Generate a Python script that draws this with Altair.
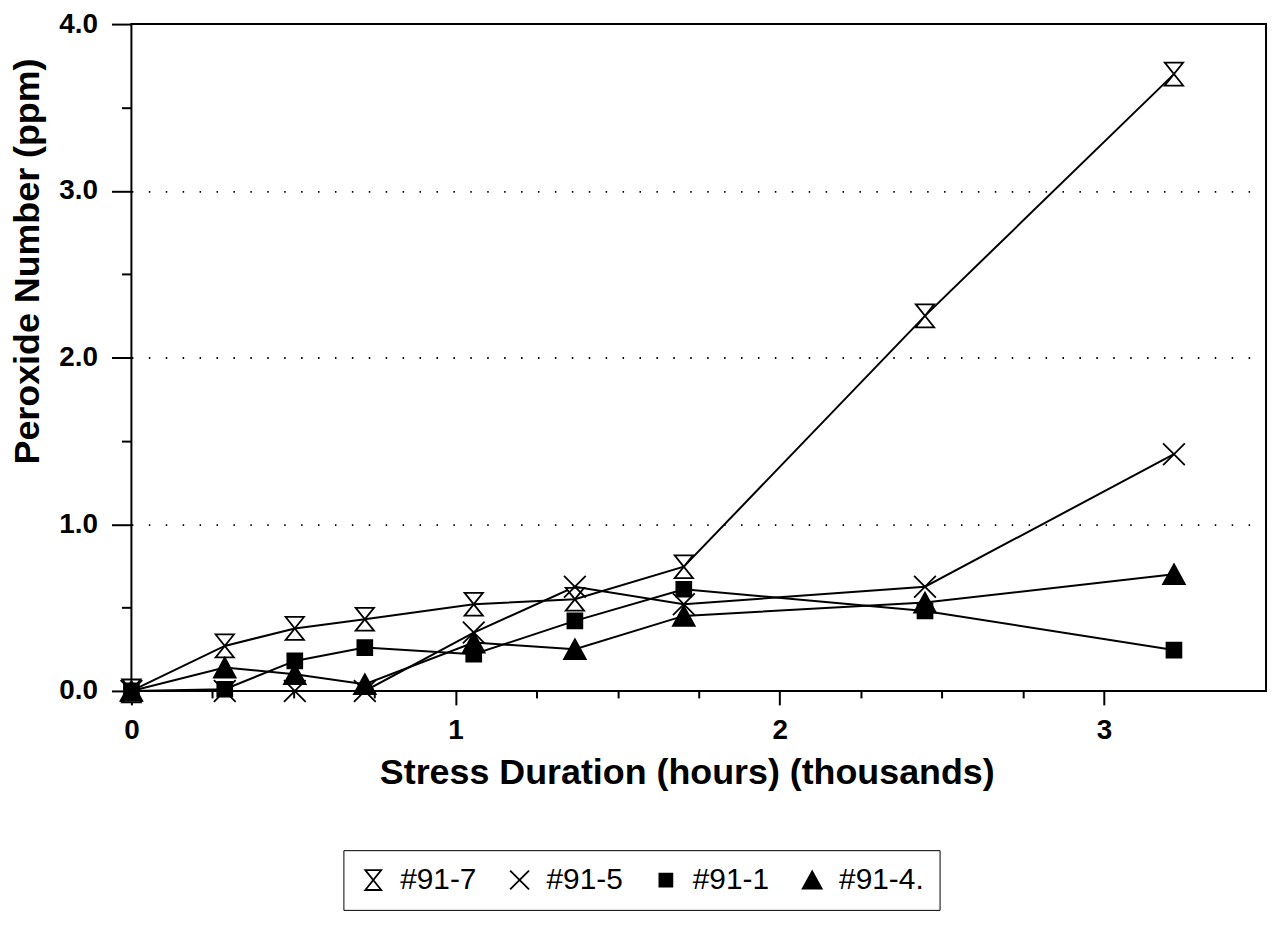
import altair as alt
import pandas as pd

# Stress duration in thousands of hours
hours_k = [0, 0.288, 0.504, 0.72, 1.056, 1.368, 1.704, 2.448, 3.216]

# Peroxide number (ppm) per sample
s_91_7 = [0, 0.27, 0.375, 0.43, 0.52, 0.55, 0.745, 2.25, 3.70]
s_91_5 = [0, 0, 0, 0, 0.35, 0.625, 0.52, 0.625, 1.42]
s_91_1 = [0, 0.01, 0.18, 0.26, 0.22, 0.42, 0.61, 0.48, 0.245]
s_91_4 = [0, 0.14, 0.10, 0.04, 0.29, 0.25, 0.45, 0.53, 0.70]

series_names = ["#91-7", "#91-5", "#91-1", "#91-4."]
series_values = [s_91_7, s_91_5, s_91_1, s_91_4]

x_tick_values = [0, 0.25, 0.5, 0.75, 1, 1.25, 1.5, 1.75, 2, 2.25, 2.5, 2.75, 3]
y_tick_values = [0, 0.5, 1, 1.5, 2, 2.5, 3, 3.5, 4]

rows = []
for name, vals in zip(series_names, series_values):
    for x, y in zip(hours_k, vals):
        rows.append({"series": name, "hours": x, "peroxide": y})
df = pd.DataFrame(rows)

FONT = "Liberation Sans"

marker_paths = [
    "M-0.8,-1L0.8,-1L-0.8,1L0.8,1Z",
    "M-0.95,-0.95L0.95,0.95M-0.95,0.95L0.95,-0.95",
    "M-0.65,-0.65L0.65,-0.65L0.65,0.65L-0.65,0.65Z",
    "M0,-0.87L0.95,0.87L-0.95,0.87Z",
]
marker_fills = ["white", "transparent", "black", "black"]

x_enc = alt.X(
    "hours:Q",
    scale=alt.Scale(domain=[0, 3.5], nice=False, zero=False),
    axis=alt.Axis(
        values=x_tick_values,
        labelExpr="datum.value % 1 === 0 ? format(datum.value, 'd') : ''",
        tickSize={"condition": {"test": "datum.value % 1 === 0", "value": 14}, "value": 7},
        tickColor="black",
        tickWidth=2,
        domain=False,
        grid=False,
        labelFont=FONT,
        labelFontSize=28,
        labelFontWeight="bold",
        labelColor="black",
        labelPadding=12,
        labelOverlap=False,
        labelFlush=False,
        title="Stress Duration (hours) (thousands)",
        titleFont=FONT,
        titleFontSize=36,
        titleFontWeight="bold",
        titleColor="black",
        titleX=558,
        titleY=82,
        titleAlign="center",
        titleBaseline="middle",
    ),
)

y_enc = alt.Y(
    "peroxide:Q",
    scale=alt.Scale(domain=[0, 4], nice=False),
    axis=alt.Axis(
        values=y_tick_values,
        labelExpr="datum.value % 1 === 0 ? format(datum.value, '.1f') : ''",
        tickSize={"condition": {"test": "datum.value % 1 === 0", "value": 20}, "value": 10},
        tickColor="black",
        tickWidth=2,
        domain=False,
        grid=True,
        gridColor="black",
        gridDash=[1.5, 15.5],
        gridWidth=1.8,
        gridOpacity={
            "condition": {
                "test": "datum.value > 0.5 && datum.value < 3.5 && datum.value % 1 === 0",
                "value": 1,
            },
            "value": 0,
        },
        labelFont=FONT,
        labelFontSize=28,
        labelFontWeight="bold",
        labelColor="black",
        labelPadding=14,
        labelOverlap=False,
        labelFlush=False,
        title="Peroxide Number (ppm)",
        titleFont=FONT,
        titleFontSize=36,
        titleFontWeight="bold",
        titleColor="black",
        titleX=-104,
        titleY=238,
        titleAngle=270,
        titleAlign="center",
        titleBaseline="middle",
    ),
)

def make_legend():
    return alt.Legend(
        title=None,
        orient="none",
        legendX=213,
        legendY=830,
        direction="horizontal",
        strokeColor="black",
        padding=15,
        labelFont=FONT,
        labelFontSize=30,
        labelFontWeight="normal",
        labelColor="black",
        labelOffset=12,
        columnPadding=28,
        symbolSize=400,
        symbolStrokeColor="black",
        symbolStrokeWidth=1.8,
        symbolOpacity=1,
    )

lines = alt.Chart(df).mark_line(color="black", strokeWidth=2).encode(
    x=x_enc,
    y=y_enc,
    detail="series:N",
)

points = alt.Chart(df).mark_point(
    filled=True, opacity=1, size=529, strokeWidth=1.8
).encode(
    x=x_enc,
    y=y_enc,
    shape=alt.Shape(
        "series:N",
        scale=alt.Scale(domain=series_names, range=marker_paths),
        legend=make_legend(),
    ),
    fill=alt.Fill(
        "series:N",
        scale=alt.Scale(domain=series_names, range=marker_fills),
        legend=make_legend(),
    ),
    stroke=alt.Stroke(
        "series:N",
        scale=alt.Scale(domain=series_names, range=["black", "black", "black", "black"]),
        legend=make_legend(),
    ),
)

chart = (
    alt.layer(lines, points)
    .properties(
        width=1140,
        height=670,
        autosize=alt.AutoSizeParams(type="none"),
        padding={"left": 124, "top": 14, "right": 5, "bottom": 230},
        background="white",
    )
    .configure(font=FONT)
    .configure_view(stroke="black", strokeWidth=2)
)

chart.save("out.html", embed_options={"renderer": "svg", "actions": False})
